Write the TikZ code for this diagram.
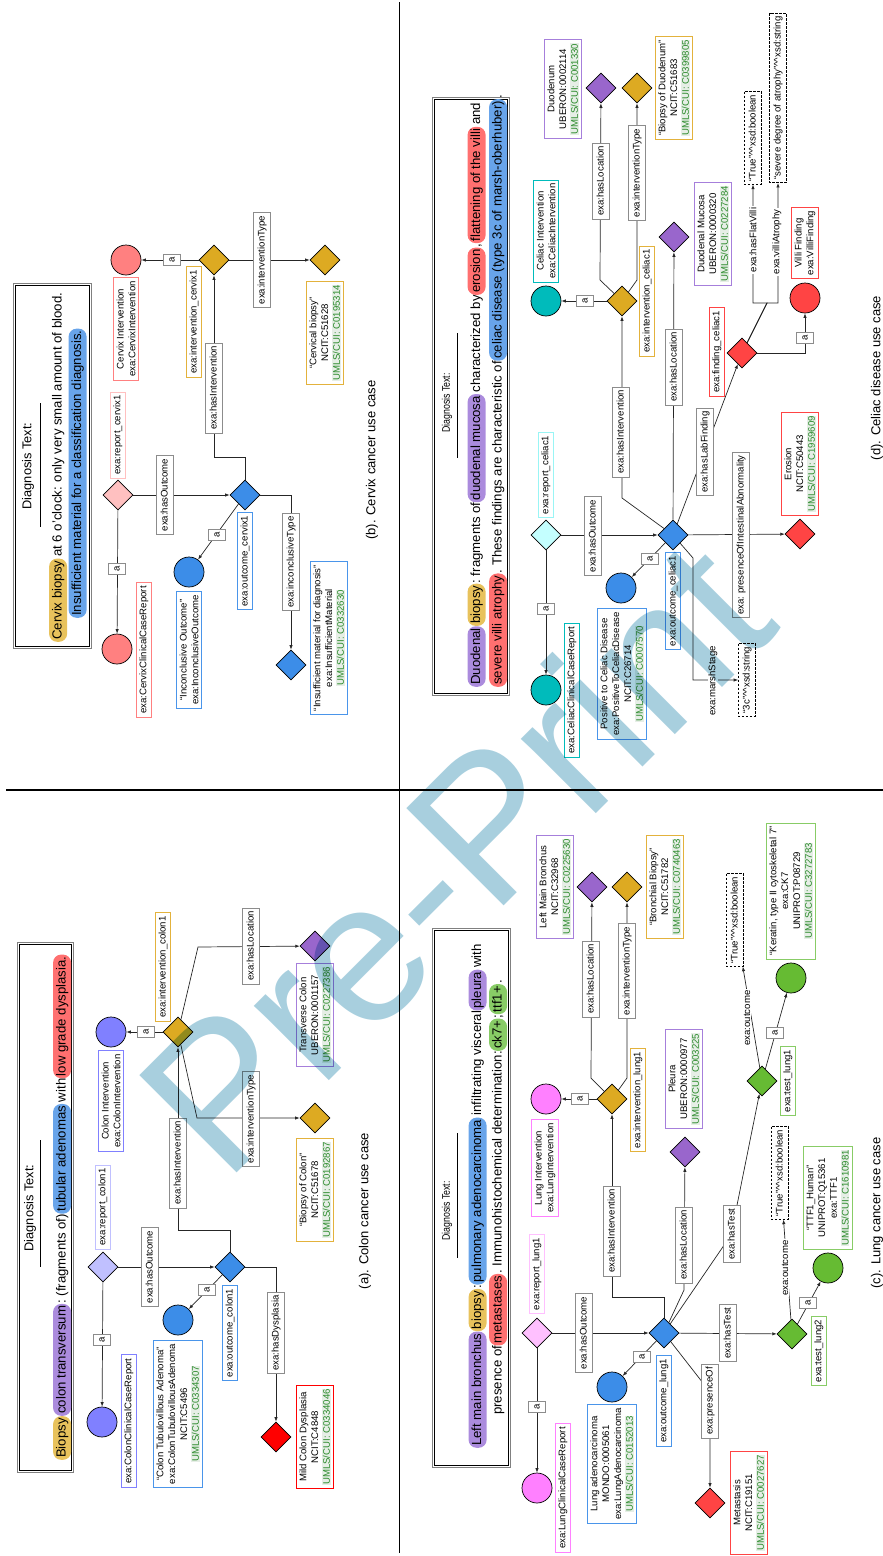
\documentclass[tikz,border=0pt]{standalone}
\usepackage{fontspec}
\usepackage{graphicx}
\setmainfont{Liberation Sans}
\usetikzlibrary{shapes.geometric,arrows.meta}

\definecolor{cBlue}{HTML}{3C8DE8}
\definecolor{cBlueB}{HTML}{4A95EA}
\definecolor{cGold}{HTML}{DDAA22}
\definecolor{cGoldB}{HTML}{E3B23C}
\definecolor{cPurple}{HTML}{9966CC}
\definecolor{cPurpleB}{HTML}{A67FDB}
\definecolor{cRed}{HTML}{FF4444}
\definecolor{cPureRed}{HTML}{FF0000}
\definecolor{cGreen}{HTML}{66BB33}
\definecolor{cGreenB}{HTML}{88CC66}
\definecolor{cTeal}{HTML}{00BBBB}
\definecolor{cCyanLt}{HTML}{C4FFFF}
\definecolor{cCyanB}{HTML}{99F5F5}
\definecolor{cLav}{HTML}{C0C0FF}
\definecolor{cPeri}{HTML}{8080FF}
\definecolor{cPinkLt}{HTML}{FFC0C0}
\definecolor{cSalmon}{HTML}{FF8080}
\definecolor{cMagLt}{HTML}{FFC0FF}
\definecolor{cMag}{HTML}{FF80FF}
\definecolor{hlGold}{HTML}{E8C25C}
\definecolor{hlBlue}{HTML}{68A4EA}
\definecolor{hlPurple}{HTML}{AB8BDD}
\definecolor{hlRed}{HTML}{FF7070}
\definecolor{hlGreen}{HTML}{88CC66}
\definecolor{umlsGreen}{HTML}{2A8A2A}
\definecolor{umlsBg}{HTML}{E6EEE6}
\definecolor{wmBlue}{HTML}{A8CFDE}

\newcommand{\umls}[1]{{\setlength{\fboxsep}{0.6pt}\colorbox{umlsBg}{\textcolor{umlsGreen}{UMLS/CUI: #1}}}}
\newcommand{\carets}{\textasciicircum\textasciicircum}

\begin{document}
\begin{tikzpicture}[x=1pt, y=-1pt,
  every node/.style={font=\fontsize{9.6}{11.8}\selectfont},
  txt/.style={rotate=90, draw=#1, fill=white, align=center, line width=0.8pt, inner xsep=3.5pt, inner ysep=3.2pt},
  lbl/.style={rotate=90, draw=black!45, fill=white, line width=0.7pt, text height=7.2pt, text depth=2.2pt, inner xsep=3pt, inner ysep=3.8pt},
  lit/.style={rotate=90, draw=black, dash pattern=on 2.5pt off 1.5pt, fill=white, line width=0.7pt, text height=7.2pt, text depth=2.2pt, inner xsep=3pt, inner ysep=3.8pt},
  flbl/.style={rotate=90, fill=white, inner xsep=1.5pt, inner ysep=1pt},
  dia/.style={diamond, draw=black, fill=#1, line width=0.7pt, minimum width=30pt, minimum height=30pt, inner sep=0pt},
  circ/.style={circle, draw=black, fill=#1, line width=0.7pt, minimum size=30pt, inner sep=0pt},
  con/.style={draw=black!85, line width=0.7pt, -{Latex[length=4.5pt,width=3.4pt]}},
  dframe/.style={draw=black!50, line width=1pt, inner sep=0pt},
  iframe/.style={draw=black, line width=0.5pt},
  rule/.style={draw=black, line width=0.8pt},
  dtext/.style={rotate=90, anchor=base west, inner sep=0pt, font=\fontsize{13.2}{15}\selectfont},
  hl/.style={dtext, fill=#1, rounded corners=8pt, inner xsep=2pt, inner ysep=2.6pt, text height=9.8pt, text depth=3pt},
  headA/.style={rotate=90, inner sep=0pt, font=\fontsize{12.8}{14}\selectfont},
  headB/.style={rotate=90, inner sep=0pt, font=\fontsize{11}{13}\selectfont},
  capt/.style={rotate=90, inner sep=0pt, font=\fontsize{13}{15}\selectfont},
  wm/.style={rotate=45, anchor=base west, text=wmBlue, blend mode=multiply, inner sep=0pt, font=\fontsize{200}{205}\selectfont}
]
\useasboundingbox (0,0) rectangle (883,1556);

% quadrant dividers
\draw[line width=1.1pt] (399.5,2) -- (399.5,1553);
\draw[line width=1.1pt] (6,790) -- (883,790);

% ================= (b) cervix =================
\node[dframe, minimum width=78pt, minimum height=365pt] (bF) at (52,465.5) {};
\draw[iframe] ([shift={(2.5pt,-2.5pt)}]bF.north west) rectangle ([shift={(-2.5pt,2.5pt)}]bF.south east);
\node[headA] (bH) at (28,466) {Diagnosis Text:};
\draw[rule] (40,403) -- (40,527);
\node[hl=hlGold] (b1a) at (61.5,642) {Cervix biopsy};
\node[dtext] (b1b) at (b1a.base east) {\hspace{1.5pt}at 6 o’clock: only very small amount of blood.};
\node[hl=hlBlue] (b2a) at (81,618) {Insufficient material for a classification diagnosis.};
\node[capt] (bC) at (372,460) {(b). Cervix cancer use case};

\node[dia=cPinkLt] (bRep) at (118,495) {};
\node[txt=cPinkLt] (bRepL) at (118,435) {exa:report\_cervix1};
\node[circ=cSalmon] (bRpt) at (117,649) {};
\node[txt=cSalmon] (bRptL) at (144,650) {exa:CervixClinicalCaseReport};
\node[dia=cBlue] (bOut) at (245,495) {};
\node[txt=cBlueB] (bOutL) at (245,561) {exa:outcome\_cervix1};
\node[circ=cBlue] (bInc) at (189,572) {};
\node[txt=cBlueB] (bIncL) at (189,650) {“Inconclusive Outcome”\\exa:InconclusiveOutcome};
\node[dia=cBlue] (bIns) at (291,665) {};
\node[txt=cBlueB] (bInsL) at (329,638) {“Insufficient material for diagnosis”\\exa:InsufficientMaterial\\\umls{C0332630}};
\node[dia=cGold] (bInt) at (214,260) {};
\node[txt=cGoldB] (bIntL) at (194,322) {exa:intervention\_cervix1};
\node[circ=cSalmon] (bCI) at (126,260) {};
\node[txt=cSalmon] (bCIL) at (126,329) {Cervix Intervention\\exa:CervixIntervention};
\node[dia=cGold] (bBio) at (325,260) {};
\node[txt=cGoldB] (bBioL) at (325,333) {“Cervical biopsy”\\NCIT:C51628\\\umls{C0195314}};

\draw[con] (bRep) -- (bRpt);
\draw[con] (bRep) -- (bOut);
\draw[con] (bOut) -- (bInc);
\draw[con] (bOut.east) -| (bIns);
\draw[con] (bOut.north) |- (214,457) -- (bInt);
\draw[con] (bInt) -- (bCI);
\draw[con] (bInt) -- (bBio);
\node[lbl] (bE1) at (117,569) {a};
\node[lbl] (bE2) at (165,495) {exa:hasOutcome};
\node[lbl] (bE3) at (217,535) {a};
\node[lbl] (bE4) at (291,562) {exa:inconclusiveType};
\node[lbl] (bE5) at (214,388) {exa:hasIntervention};
\node[lbl] (bE6) at (172,260) {a};
\node[lbl] (bE7) at (262,260) {exa:interventionType};

% ================= (a) colon =================
\node[dframe, minimum width=56pt, minimum height=530pt] (aF) at (45,1207) {};
\draw[iframe] ([shift={(2.5pt,-2.5pt)}]aF.north west) rectangle ([shift={(-2.5pt,2.5pt)}]aF.south east);
\node[headA] (aH) at (30,1208) {Diagnosis Text:};
\draw[rule] (40,1140) -- (40,1267);
\node[hl=hlGold] (a1) at (65.5,1460) {Biopsy};
\node[hl=hlPurple] (a2) at (a1.base east) {colon transversum};
\node[dtext] (a3) at (a2.base east) {:\ (fragments of)\hspace{1.5pt}};
\node[hl=hlBlue] (a4) at (a3.base east) {tubular adenomas};
\node[dtext] (a5) at (a4.base east) {\hspace{1.5pt}with\hspace{1.5pt}};
\node[hl=hlRed] (a6) at (a5.base east) {low grade dysplasia.};
\node[capt] (aC) at (365,1211) {(a). Colon cancer use case};

\node[dia=cLav] (aRep) at (103,1267) {};
\node[txt=cLav] (aRepL) at (103,1207) {exa:report\_colon1};
\node[circ=cPeri] (aRpt) at (102,1422) {};
\node[txt=cPeri] (aRptL) at (129,1421) {exa:ColonClinicalCaseReport};
\node[dia=cBlue] (aOut) at (230,1267) {};
\node[txt=cBlueB] (aOutL) at (230,1333) {exa:outcome\_colon1};
\node[circ=cBlue] (aTub) at (178,1320) {};
\node[txt=cBlueB] (aTubL) at (178,1414) {“Colon Tubulovillous Adenoma”\\exa:ColonTubulovillousAdenoma\\NCIT:C5496\\\umls{C0334307}};
\node[dia=cPureRed] (aDys) at (276,1437) {};
\node[txt=cPureRed] (aDysL) at (315,1437) {Mild Colon Dysplasia\\NCIT:C4848\\\umls{C0334046}};
\node[dia=cGold] (aInt) at (178,1032) {};
\node[txt=cGoldB] (aIntL) at (163,967) {exa:intervention\_colon1};
\node[circ=cPeri] (aCI) at (111,1032) {};
\node[txt=cPeri] (aCIL) at (111,1101) {Colon Intervention\\exa:ColonIntervention};
\node[dia=cPurple] (aLoc) at (315,946) {};
\node[txt=cPurpleB] (aLocL) at (315,1015) {Transverse Colon\\UBERON:0001157\\\umls{C0227386}};
\node[dia=cGold] (aBio) at (315,1118) {};
\node[txt=cGoldB] (aBioL) at (315,1190) {“Biopsy of Colon”\\NCIT:C51678\\\umls{C0192867}};

\draw[con] (aRep) -- (aRpt);
\draw[con] (aRep) -- (aOut);
\draw[con] (aOut) -- (aTub);
\draw[con] (aOut.east) -| (aDys);
\draw[con] (aOut.north) |- (178,1230) -- (aInt);
\draw[con] (aInt) -- (aCI);
\draw[con] (aInt) -- (198,947) -- (aLoc);
\draw[con] (aInt) -- (197,1118) -- (aBio);
\node[lbl] (aE1) at (102,1340) {a};
\node[lbl] (aE2) at (150,1267) {exa:hasOutcome};
\node[lbl] (aE3) at (207,1290) {a};
\node[lbl] (aE4) at (276,1333) {exa:hasDysplasia};
\node[lbl] (aE5) at (178,1163) {exa:hasIntervention};
\node[lbl] (aE6) at (146,1032) {a};
\node[lbl] (aE7) at (251,946) {exa:hasLocation};
\node[lbl] (aE8) at (251,1119) {exa:interventionType};

% ================= (d) celiac =================
\node[dframe, minimum width=77pt, minimum height=598pt] (dF) at (470.5,396) {};
\draw[iframe] ([shift={(2.5pt,-2.5pt)}]dF.north west) rectangle ([shift={(-2.5pt,2.5pt)}]dF.south east);
\node[headB] (dH) at (447,403) {\scalebox{0.8}[1]{Diagnosis Text:}};
\draw[rule] (457,333) -- (457,458);
\node[hl=hlPurple] (d1a) at (480,687) {Duodenal};
\node[hl=hlGold] (d1b) at (d1a.base east) {biopsy};
\node[dtext] (d1c) at (d1b.base east) {:\ fragments of\hspace{1.5pt}};
\node[hl=hlPurple] (d1d) at (d1c.base east) {duodenal mucosa};
\node[dtext] (d1e) at (d1d.base east) {\hspace{1.5pt}characterized by\hspace{1.5pt}};
\node[hl=hlRed] (d1f) at (d1e.base east) {erosion};
\node[dtext] (d1g) at (d1f.base east) {,\hspace{1.5pt}};
\node[hl=hlRed] (d1h) at (d1g.base east) {flattening of the villi};
\node[dtext] (d1i) at (d1h.base east) {\hspace{1.5pt}and};
\node[hl=hlRed] (d2a) at (501.5,687) {severe villi atrophy};
\node[dtext] (d2b) at (d2a.base east) {.\ These findings are characteristic of\hspace{1.5pt}};
\node[hl=hlBlue] (d2c) at (d2b.base east) {celiac disease (type 3c of marsh-oberhuber)};
\node[dtext] (d2d) at (d2c.base east) {.};
\node[capt] (dC) at (877,378) {(d). Celiac disease use case};

\node[dia=cCyanLt] (dRep) at (546,535) {};
\node[txt=cCyanB] (dRepL) at (546,475) {exa:report\_celiac1};
\node[circ=cTeal] (dRpt) at (546,690) {};
\node[txt=cTeal] (dRptL) at (572,690) {exa:CeliacClinicalCaseReport};
\node[dia=cBlue] (dOut) at (673,535) {};
\node[txt=cBlueB] (dOutL) at (673,601) {exa:outcome\_celiac1};
\node[circ=cBlue] (dPos) at (621,588) {};
\node[txt=cBlueB] (dPosL) at (622,674) {Positive to Celiac Disease\\exa:PositiveToCeliacDisease\\NCIT:C26714\\\umls{C0007570}};
\node[lit] (dMarsh) at (747,680) {“3c”\carets xsd:string};
\node[dia=cRed] (dEro) at (800,534) {};
\node[txt=cRed] (dEroL) at (800,464) {Erosion\\NCIT:C50443\\\umls{C1959609}};
\node[dia=cRed] (dFin) at (742,353) {};
\node[txt=cRed] (dFinL) at (717,352) {exa:finding\_celiac1};
\node[circ=cRed] (dVF) at (805,298) {};
\node[txt=cRed] (dVFL) at (805,243) {Villi Finding\\exa:VilliFinding};
\node[lit] (dLitA) at (753,138) {“True”\carets xsd:boolean};
\node[lit] (dLitB) at (778,98) {“severe degree of atrophy”\carets xsd:string};
\node[dia=cPurple] (dMuc) at (674,237) {};
\node[txt=cPurpleB] (dMucL) at (713,234) {Duodenal Mucosa\\UBERON:0000320\\\umls{C0227284}};
\node[dia=cGold] (dInt) at (622,301) {};
\node[txt=cGoldB] (dIntL) at (647,301) {exa:intervention\_celiac1};
\node[circ=cTeal] (dCI) at (546,301) {};
\node[txt=cTeal] (dCIL) at (546,231) {Celiac Intervention\\exa:CeliacIntervention};
\node[dia=cPurple] (dDuo) at (601,88) {};
\node[txt=cPurpleB] (dDuoL) at (563,89) {Duodenum\\UBERON:0002114\\\umls{C001330}};
\node[dia=cGold] (dBio) at (637,88) {};
\node[txt=cGoldB] (dBioL) at (674,88) {“Biopsy of Duodenum”\\NCIT:C51683\\\umls{C0399805}};

\draw[con] (dRep) -- (dRpt);
\draw[con] (dRep) -- (dOut);
\draw[con] (dOut) -- (dPos);
\draw[con] (dOut) -- (693,558) |- (dMarsh);
\draw[con] (dOut) -- (dEro);
\draw[con] (dOut) -- (dFin);
\draw[con] (dOut) -- (dMuc);
\draw[con] (dOut) -- (622,498) -- (dInt);
\draw[con] (dInt) -- (dCI);
\draw[con] (dInt) -- (600,280) -- (dDuo);
\draw[con] (dInt) -- (637,280) -- (dBio);
\draw[con] (dFin.east) -| (dVF);
\draw[con] (dFin) -- (767,303) -| (dLitA);
\draw[con] (dFin) -- (767,303) -| (dLitB);
\node[lbl] (dE1) at (546,609) {a};
\node[lbl] (dE2) at (593,536) {exa:hasOutcome};
\node[lbl] (dE3) at (650,559) {a};
\node[flbl] (dE4) at (713,681) {exa:marshStage};
\node[lbl] (dE5) at (741,535) {exa:\ presenceOfIntestinalAbnormality};
\node[lbl] (dE6) at (705,452) {exa:hasLabFinding};
\node[lbl] (dE7) at (674,367) {exa:hasLocation};
\node[lbl] (dE8) at (621,432) {exa:hasIntervention};
\node[lbl] (dE9) at (585,301) {a};
\node[lbl] (dE10) at (601,181) {exa:hasLocation};
\node[lbl] (dE11) at (637,173) {exa:interventionType};
\node[lbl] (dE12) at (805,338) {a};
\node[flbl] (dE13) at (753,240) {exa:hasFlatVilli};
\node[flbl] (dE14) at (777,242) {exa:villiAtrophy};

% ================= (c) lung =================
\node[dframe, minimum width=78pt, minimum height=539pt] (cF) at (471,1197.5) {};
\draw[iframe] ([shift={(2.5pt,-2.5pt)}]cF.north west) rectangle ([shift={(-2.5pt,2.5pt)}]cF.south east);
\node[headB] (cH) at (447,1211) {\scalebox{0.8}[1]{Diagnosis Text:}};
\draw[rule] (457,1133) -- (457,1258);
\node[hl=hlPurple] (c1a) at (481,1448) {Left main bronchus};
\node[hl=hlGold] (c1b) at (c1a.base east) {biopsy};
\node[dtext] (c1c) at (c1b.base east) {:\hspace{1.5pt}};
\node[hl=hlBlue] (c1d) at (c1c.base east) {pulmonary adenocarcinoma};
\node[dtext] (c1e) at (c1d.base east) {\hspace{1.5pt}infiltrating visceral\hspace{1.5pt}};
\node[hl=hlPurple] (c1f) at (c1e.base east) {pleura};
\node[dtext] (c1g) at (c1f.base east) {\hspace{1.5pt}with};
\node[dtext] (c2a) at (501.5,1415) {presence of\hspace{1.5pt}};
\node[hl=hlRed] (c2b) at (c2a.base east) {metastases};
\node[dtext] (c2c) at (c2b.base east) {.\ Immunohistochemical determination:\hspace{1.5pt}};
\node[hl=hlGreen] (c2d) at (c2c.base east) {ck7+};
\node[dtext] (c2e) at (c2d.base east) {;\hspace{1.5pt}};
\node[hl=hlGreen] (c2f) at (c2e.base east) {ttf1+};
\node[dtext] (c2g) at (c2f.base east) {.};
\node[capt] (cC) at (877,1213) {(c). Lung cancer use case};

\node[dia=cMagLt] (cRep) at (537,1333) {};
\node[txt=cMagLt] (cRepL) at (537,1274) {exa:report\_lung1};
\node[circ=cMag] (cRpt) at (537,1488) {};
\node[txt=cMag] (cRptL) at (563,1488) {exa:LungClinicalCaseReport};
\node[dia=cBlue] (cOut) at (664,1333) {};
\node[txt=cBlueB] (cOutL) at (664,1401) {exa:outcome\_lung1};
\node[circ=cBlue] (cAde) at (612,1387) {};
\node[txt=cBlueB] (cAdeL) at (612,1464) {Lung adenocarcinoma\\MONDO:0005061\\exa:LungAdenocarcinoma\\\umls{C0152013}};
\node[dia=cRed] (cMet) at (710,1503) {};
\node[txt=cRed] (cMetL) at (749,1503) {Metastasis\\NCIT:C19151\\\umls{C0027627}};
\node[dia=cGreen] (cT2) at (792,1334) {};
\node[txt=cGreenB] (cT2L) at (819,1351) {exa:test\_lung2};
\node[circ=cGreen] (cTTF) at (828,1268) {};
\node[txt=cGreenB] (cTTFL) at (828,1198) {“TTF1\_Human”\\UNIPROT:Q15361\\exa:TTF1\\\umls{C1610981}};
\node[lit] (cLit2) at (780,1173) {“True”\carets xsd:boolean};
\node[dia=cGold] (cInt) at (612,1099) {};
\node[txt=cGoldB] (cIntL) at (638,1100) {exa:intervention\_lung1};
\node[circ=cMag] (cLI) at (546,1099) {};
\node[txt=cMag] (cLIL) at (545,1168) {Lung Intervention\\exa:LungIntervention};
\node[dia=cPurple] (cBr) at (592,887) {};
\node[txt=cPurpleB] (cBrL) at (555,887) {Left Main Bronchus\\NCIT:C32968\\\umls{C0225630}};
\node[dia=cGold] (cBB) at (627,887) {};
\node[txt=cGoldB] (cBBL) at (665,887) {“Bronchial Biopsy”\\NCIT:C51782\\\umls{C0740463}};
\node[dia=cPurple] (cPl) at (685,1152) {};
\node[txt=cPurpleB] (cPlL) at (684,1079) {Pleura\\UBERON:0000977\\\umls{C003225}};
\node[dia=cGreen] (cT1) at (762,1081) {};
\node[txt=cGreenB] (cT1L) at (788,1081) {exa:test\_lung1};
\node[circ=cGreen] (cCK) at (791,978) {};
\node[txt=cGreenB] (cCKL) at (791,891) {“Keratin, type II cytoskeletal 7”\\exa:CK7\\UNIPROT:P08729\\\umls{C3272783}};
\node[lit] (cLit1) at (735,920) {“True”\carets xsd:boolean};

\draw[con] (cRep) -- (cRpt);
\draw[con] (cRep) -- (cOut);
\draw[con] (cOut) -- (cAde);
\draw[con] (cOut) -- (710,1392) -- (cMet);
\draw[con] (cOut) -- (cT2);
\draw[con] (cT2) -- (cTTF);
\draw[con] (cT2) -- (cLit2);
\draw[con] (cOut.north) |- (612,1297) -- (cInt);
\draw[con] (cInt) -- (cLI);
\draw[con] (cInt) -- (591,1078) -- (cBr);
\draw[con] (cInt) -- (627,1078) -- (cBB);
\draw[con] (cOut) -- (684,1290) -- (cPl);
\draw[con] (cOut) -- (731,1235) -- (cT1);
\draw[con] (cT1) -- (cCK);
\draw[con] (cT1) -- (cLit1);
\node[lbl] (cE1) at (537,1407) {a};
\node[lbl] (cE2) at (584,1333) {exa:hasOutcome};
\node[lbl] (cE3) at (642,1357) {a};
\node[lbl] (cE4) at (710,1401) {exa:presenceOf};
\node[lbl] (cE5) at (728,1333) {exa:hasTest};
\node[lbl] (cE6) at (808,1303) {a};
\node[flbl] (cE7) at (785,1268) {exa:outcome};
\node[lbl] (cE8) at (612,1231) {exa:hasIntervention};
\node[lbl] (cE9) at (580,1099) {a};
\node[lbl] (cE10) at (591,979) {exa:hasLocation};
\node[lbl] (cE11) at (627,971) {exa:interventionType};
\node[lbl] (cE12) at (684,1245) {exa:hasLocation};
\node[lbl] (cE13) at (732,1234) {exa:hasTest};
\node[lbl] (cE14) at (775,1033) {a};
\node[flbl] (cE15) at (747,1018) {exa:outcome};

% watermark
\node[wm] (wmark) at (225,1185) {Pre-Print};
\end{tikzpicture}
\end{document}
